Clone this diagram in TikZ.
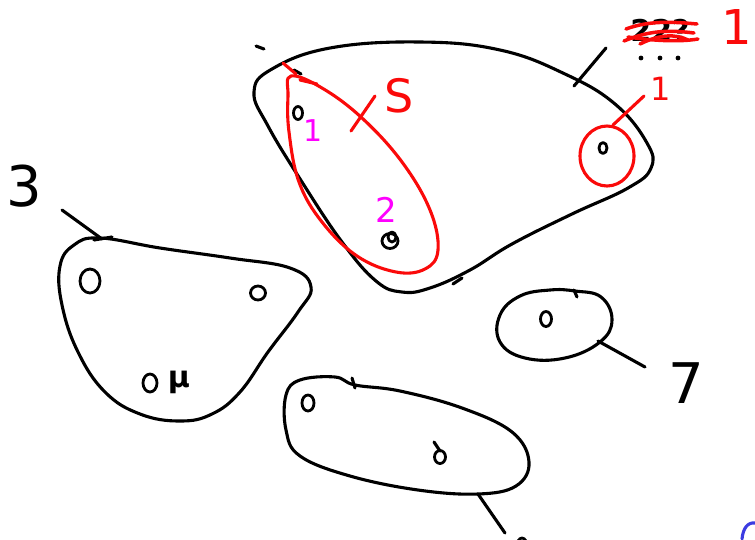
\documentclass[tikz,border=0pt]{standalone}
\usepackage{fontspec}
\setmainfont{DejaVu Sans}
\usetikzlibrary{positioning}

\newcommand{\handsize}[1]{\fontsize{#1}{#1}\selectfont}
\definecolor{inkred}{RGB}{250,10,10}
\definecolor{inkpink}{RGB}{255,0,255}
\definecolor{inkblue}{RGB}{60,60,225}

\tikzset{
  pen/.style={line width=3.1pt, line cap=round, line join=round},
  redpen/.style={pen, inkred},
  elem/.style={pen, line width=2.8pt},
}

\begin{document}
\begin{tikzpicture}[x=1pt, y=-1pt]
\useasboundingbox (0,0) rectangle (755,539);
\clip (0,0) rectangle (755,539);

% top set
\draw[pen] plot[smooth cycle, tension=0.7] coordinates {(272,69) (330,48) (420,42) (500,50) (565,74) (615,104) (647,143) (651,168) (628,188) (572,214) (512,244) (470,270) (430,288) (402,292) (376,281) (342,242) (302,182) (268,126) (254,92)};
\draw[pen] (256,46) -- (264,49);
\draw[pen] (294,70) -- (301,74);
\draw[pen] (453,284) -- (462,278);
\coordinate (topedge) at (574,86);
\coordinate (topend) at (606,48);
\draw[pen] (topedge) -- (topend);
\foreach \x in {641,660,678} \fill (\x,58) circle (2.4pt);
\node (count) at (660,30) {\handsize{30}\bfseries 22?};
\draw[redpen, line width=3.5pt] (626,29) .. controls (650,20) and (675,22) .. (697,24);
\draw[redpen, line width=3.5pt] (624,41) .. controls (650,30) and (670,30) .. (694,33);
\draw[redpen, line width=3.5pt] (628,37) .. controls (655,41) and (680,42) .. (698,39);
\draw[redpen, line width=3.5pt] (640,44) .. controls (660,34) and (676,34) .. (688,40);
\node[inkred] (newcount) at (737,27) {\handsize{48}1};

% elements of the top set
\draw[elem] (298,113) ellipse (4.5pt and 6.5pt);
\draw[elem] (390,241) ellipse (8pt and 7.5pt);
\draw[elem] (392,237) ellipse (4pt and 5pt);
\draw[elem] (603,148) ellipse (4pt and 5.5pt);

% subset S
\draw[redpen] plot[smooth cycle, tension=0.65] coordinates {(291,76) (322,88) (362,118) (402,162) (430,210) (438,250) (425,269) (396,272) (357,256) (322,222) (299,182) (289,132) (288,96)};
\draw[redpen] (283,63) -- (296,74);
\draw[redpen] (300,80) -- (317,84);
\coordinate (stick) at (351,131);
\coordinate (send) at (375,96);
\draw[redpen] (stick) -- (send);
\node[inkred] (slabel) at (399,96) {\handsize{46}S};
\node[inkpink] (first) at (313,131) {\handsize{30}1};
\node[inkpink] (second) at (386,210) {\handsize{34}2};

% singleton
\draw[redpen] (607,156) ellipse (27pt and 30pt);
\coordinate (ringtop) at (613,125);
\coordinate (ringend) at (644,96);
\draw[redpen] (ringtop) -- (ringend);
\node[inkred] (ringlabel) at (661,89) {\handsize{32}1};

% left set
\draw[pen] plot[smooth cycle, tension=0.7] coordinates {(100,238) (160,248) (230,258) (290,268) (311,287) (298,312) (268,352) (240,392) (212,414) (180,421) (140,414) (105,392) (78,352) (62,305) (60,266) (74,245)};
\coordinate (leftknot) at (102,239);
\coordinate (leftend) at (62,210);
\draw[pen] (leftend) -- (leftknot);
\draw[pen] (94,240) -- (112,237);
\node (three) at (24,186) {\handsize{56}3};
\draw[elem] (90,281) ellipse (10pt and 12pt);
\draw[elem] (258,293) ellipse (7.5pt and 7pt);
\draw[elem] (150,383) ellipse (7pt and 9pt);
\node (mu) at (179,382) {\handsize{30}\bfseries μ};

% right set
\draw[pen] plot[smooth cycle, tension=0.7] coordinates {(575,291) (601,297) (612,320) (600,342) (565,358) (525,358) (500,342) (500,315) (520,296) (550,290)};
\draw[pen] (574,290) -- (577,297);
\coordinate (rightedge) at (598,341);
\coordinate (rightend) at (645,367);
\draw[pen] (rightedge) -- (rightend);
\node (seven) at (686,383) {\handsize{56}7};
\draw[elem] (546,319) ellipse (5.5pt and 7.5pt);

% bottom set
\draw[pen] plot[smooth cycle, tension=0.65] coordinates {(300,380) (335,377) (355,385) (400,391) (462,408) (512,432) (529,462) (516,486) (478,494) (418,490) (350,476) (300,456) (286,430) (286,395)};
\draw[pen] (355,388) -- (352,378);
\draw[elem] (308,403) ellipse (6pt and 8pt);
\draw[elem] (440,457) ellipse (5.5pt and 6.5pt);
\draw[pen] (440,451) -- (434,442);
\coordinate (bottomedge) at (478,494);
\coordinate (bottomend) at (505,533);
\draw[pen] (bottomedge) -- (bottomend);
\draw[elem] (522,546) ellipse (5pt and 8pt);
\draw[pen, inkblue] (742,539) .. controls (743,528) and (748,522) .. (755,523);
\end{tikzpicture}
\end{document}
